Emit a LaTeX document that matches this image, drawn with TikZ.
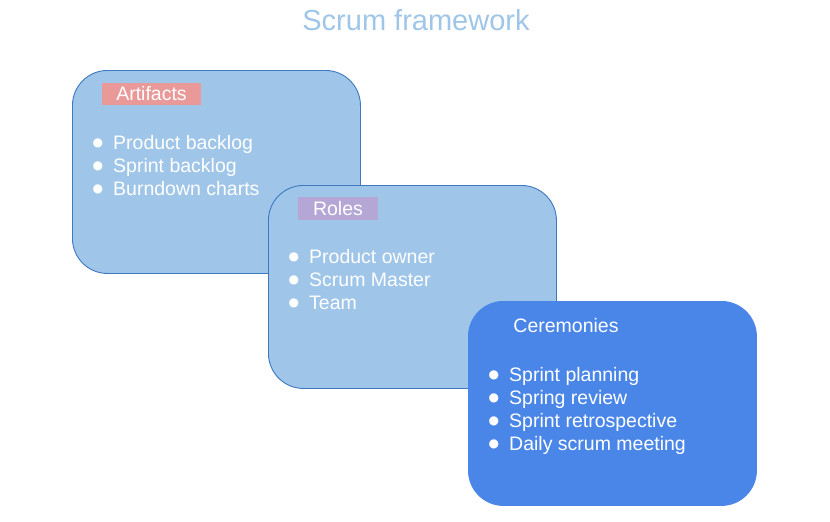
\documentclass[tikz,border=0pt]{standalone}
\usepackage{fontspec}
\setmainfont{Liberation Sans}
\newfontfamily\dotfont{DejaVu Sans}
\definecolor{paleblue}{HTML}{9FC5E8}
\definecolor{edgeblue}{HTML}{3D78C0}
\definecolor{deepblue}{HTML}{4A86E8}
\definecolor{salmon}{HTML}{EA9999}
\definecolor{lilac}{HTML}{B4A7D6}
% list bullet: a round dot set in a smaller size so that it keeps within the line
\newcommand{\bul}{\makebox[19.5pt][l]{\hspace{-1.2pt}\raisebox{2.8pt}{\dotfont\fontsize{12}{12}\selectfont ●}}}
\begin{document}
\begin{tikzpicture}[x=1pt,y=1pt,
  card/.style={draw=edgeblue, line width=0.9pt, fill=paleblue, rounded corners=35pt,
    minimum width=288pt, minimum height=203pt, anchor=north west, inner sep=0pt},
  darkcard/.style={card, draw=deepblue, fill=deepblue},
  tag/.style={text=white, font=\fontsize{19.5}{23}\selectfont, inner sep=0pt},
  items/.style={text=white, font=\fontsize{19.5}{23}\selectfont, align=left,
    anchor=north west, inner sep=0pt}]
\useasboundingbox (0,0) rectangle (830,-522);

\node[text=paleblue, font=\fontsize{29}{34}\selectfont] (title) at (416,-20) {Scrum framework};

% Artifacts
\node[card] (art) at (72,-70) {};
\node[fill=salmon, minimum width=99pt, minimum height=22pt, inner sep=0pt]
  (artbg) at ([shift={(79.5,-24)}]art.north west) {};
\node[tag] (arttag) at (artbg.center) {Artifacts};
\node[items] (artlist) at ([shift={(21.5,-64.8)}]art.north west)
  {\bul Product backlog\\\bul Sprint backlog\\\bul Burndown charts};

% Roles
\node[card] (rol) at (268,-185) {};
\node[fill=lilac, minimum width=80pt, minimum height=23pt, inner sep=0pt]
  (rolbg) at ([shift={(70,-23.5)}]rol.north west) {};
\node[tag] (roltag) at (rolbg.center) {Roles};
\node[items] (rollist) at ([shift={(21.5,-63.8)}]rol.north west)
  {\bul Product owner\\\bul Scrum Master\\\bul Team};

% Ceremonies
\node[darkcard, minimum height=204pt] (cer) at (468,-301) {};
\node[tag] (certag) at ([shift={(98,-25)}]cer.north west) {Ceremonies};
\node[items] (cerlist) at ([shift={(21.5,-65.8)}]cer.north west)
  {\bul Sprint planning\\\bul Spring review\\\bul Sprint retrospective\\\bul Daily scrum meeting};
\end{tikzpicture}
\end{document}
